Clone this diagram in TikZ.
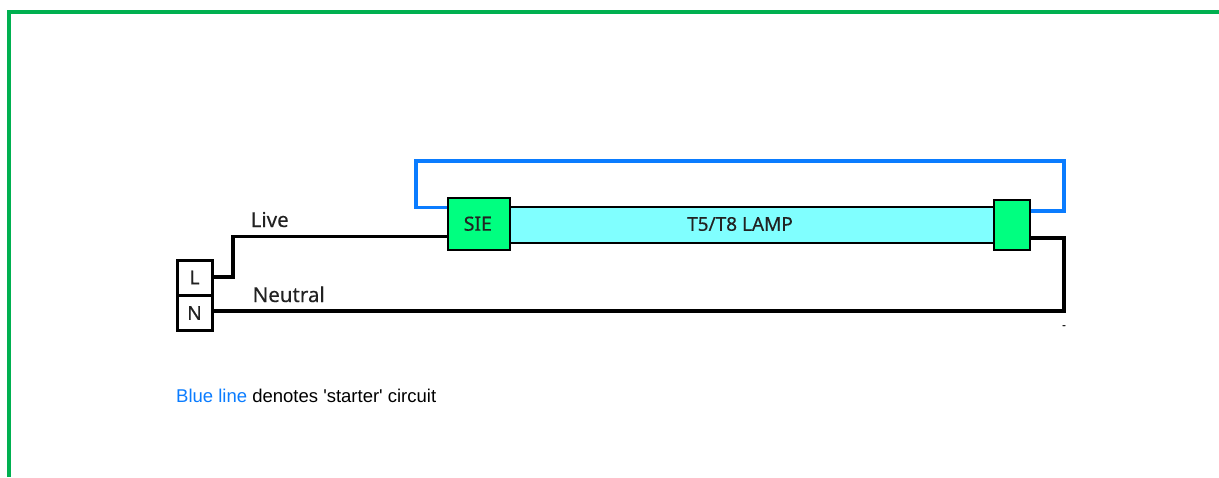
\documentclass[tikz,border=0pt]{standalone}
\usepackage{fontspec}
\setmainfont{Liberation Sans}
\newfontfamily\labelfont[FakeBold=0.3]{Noto Sans}
\definecolor{framegreen}{HTML}{00B050}
\definecolor{wireblue}{HTML}{0A7CFF}
\definecolor{capgreen}{HTML}{00FF80}
\definecolor{lampcyan}{HTML}{80FFFF}
\definecolor{inkgrey}{HTML}{222222}
\tikzset{
  wire/.style={line width=3.3pt,black,line join=miter},
  startwire/.style={line width=3.4pt,wireblue,line join=miter},
  capbox/.style={draw=black,line width=2.2pt,fill=capgreen,inner sep=0pt,anchor=north west,text=inkgrey,font=\labelfont\fontsize{19.5}{19.5}\selectfont},
  lamptube/.style={draw=black,line width=2pt,fill=lampcyan,inner sep=0pt,anchor=north west,text=inkgrey},
  terminal/.style={draw=black,line width=3pt,fill=white,inner sep=0pt,anchor=north west,minimum width=35pt,minimum height=35pt,text=inkgrey,font=\labelfont\fontsize{19}{19}\selectfont},
  lamplabel/.style={anchor=center,inner sep=0pt,text=inkgrey,font=\labelfont\fontsize{19}{19}\selectfont},
  wirelabel/.style={anchor=base west,inner sep=0pt,text=inkgrey,font=\labelfont\fontsize{20.5}{20.5}\selectfont},
  captiontext/.style={anchor=base west,inner sep=0pt,font=\fontsize{18.5}{18.5}\selectfont}
}
\begin{document}
\begin{tikzpicture}[x=1pt,y=-1pt]
\useasboundingbox (0,0) rectangle (1219,477);
\fill[framegreen] (7,10) rectangle (1219,14);
\fill[framegreen] (7,10) rectangle (11,477);
% lamp and end caps
\node[lamptube,minimum width=485pt,minimum height=35.5pt] (lamp) at (508.5,206.2) {};
\node[lamplabel] (lamptext) at (740,224) {T5/T8 LAMP};
\node[capbox,minimum width=61.5pt,minimum height=52pt] (sie) at (447,197) {\raisebox{1pt}{\hspace{-2pt}SIE}};
\node[capbox,minimum width=36pt,minimum height=50.7pt] (capr) at (992.5,198.5) {};
% terminals
\node[terminal] (L) at (175.5,258.5) {L};
\node[terminal] (N) at (175.5,294) {N};
% routing points
\coordinate (btl) at (416,161);
\coordinate (btr) at (1064,161);
\coordinate (bsl) at (416,207.7);
\coordinate (bsr) at (1064,211);
\coordinate (lvt) at (233,236.3);
\coordinate (lvb) at (233,277);
\coordinate (rtop) at (1064,238);
\coordinate (rbot) at (1064,311);
% starter circuit
\draw[startwire] (sie.west |- bsl) -- (bsl) -- (btl) -- (btr) -- (bsr) -- (capr.east |- bsr);
% mains wiring
\draw[wire] (sie.west |- lvt) -- (lvt) -- (lvb) -- (L.east |- lvb);
\draw[wire] (capr.east |- rtop) -- (rtop) -- (rbot) -- (N.east |- rbot);
% labels
\node[wirelabel] (live) at (250.5,227) {Live};
\node[wirelabel] (neutral) at (252.5,302) {Neutral};
\node[inner sep=0pt,anchor=center,font=\labelfont\fontsize{12}{12}\selectfont,text=inkgrey] (dash) at (1064,327) {-};
\node[captiontext] (cap) at (176,402.5) {\textcolor{wireblue}{Blue line} denotes \textquotesingle starter\textquotesingle{} circuit};
\end{tikzpicture}
\end{document}
